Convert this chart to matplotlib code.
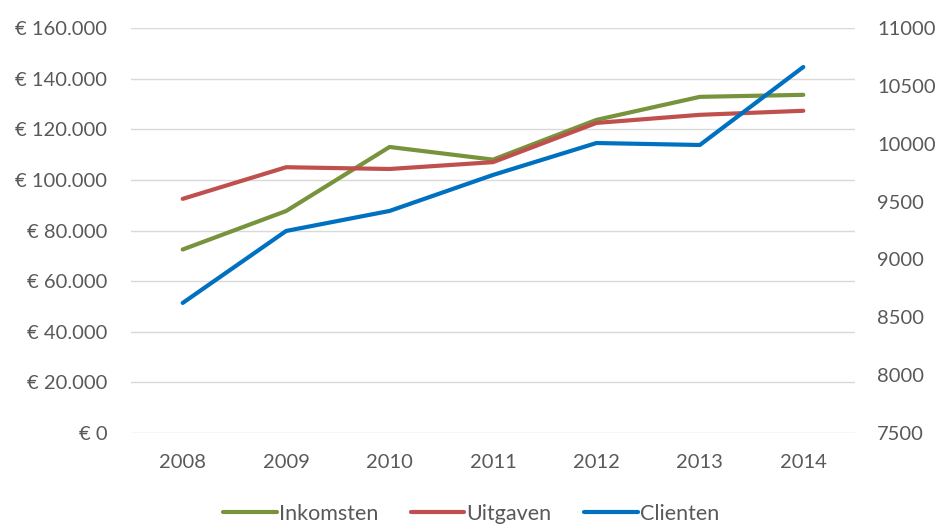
import matplotlib.pyplot as plt
from matplotlib.ticker import FuncFormatter

years = ["2008", "2009", "2010", "2011", "2012", "2013", "2014"]
inkomsten = [72500, 87700, 113000, 108000, 123700, 132800, 133600]
uitgaven = [92500, 105000, 104300, 107000, 122500, 125700, 127300]
clienten = [8624, 9246, 9419, 9730, 10006, 9989, 10663]

plt.rcParams['font.family'] = ['Lato', 'DejaVu Sans']
txt = '#595959'

fig = plt.figure(figsize=(9.42, 5.27), dpi=100)
ax = fig.add_axes([131 / 942, 1 - 433 / 527, 724 / 942, 405 / 527])
ax2 = ax.twinx()

x = range(len(years))
l1, = ax.plot(x, inkomsten, color='#77933C', lw=3, solid_capstyle='round', label='Inkomsten')
l2, = ax.plot(x, uitgaven, color='#C0504D', lw=3, solid_capstyle='round', label='Uitgaven')
l3, = ax2.plot(x, clienten, color='#0070C0', lw=3, solid_capstyle='round', label='Clienten')

ax.set_ylim(0, 160000)
ax.set_yticks(range(0, 160001, 20000))
ax.yaxis.set_major_formatter(FuncFormatter(lambda v, p: "€ " + f"{int(v):,}".replace(",", ".")))
ax2.set_ylim(7500, 11000)
ax2.set_yticks(range(7500, 11001, 500))
ax.set_xlim(-0.5, 6.5)
ax.set_xticks(list(x))
ax.set_xticklabels(years)

ax.grid(axis='y', color='#D9D9D9', lw=1)
ax.set_axisbelow(True)
for a in (ax, ax2):
    for s in a.spines.values():
        s.set_visible(False)
    a.tick_params(length=0, labelsize=14.5, colors=txt)
ax.tick_params(axis='y', pad=17)
ax.tick_params(axis='x', pad=15)
ax2.tick_params(axis='y', pad=16)

fig.legend(handles=[l1, l2, l3], loc='center', bbox_to_anchor=(0.5, 1 - 514 / 527),
           ncol=3, frameon=False, fontsize=15.5, labelcolor=txt, handlelength=2.5,
           handletextpad=0.1, columnspacing=1.5)

fig.savefig('out.png', dpi=100)
